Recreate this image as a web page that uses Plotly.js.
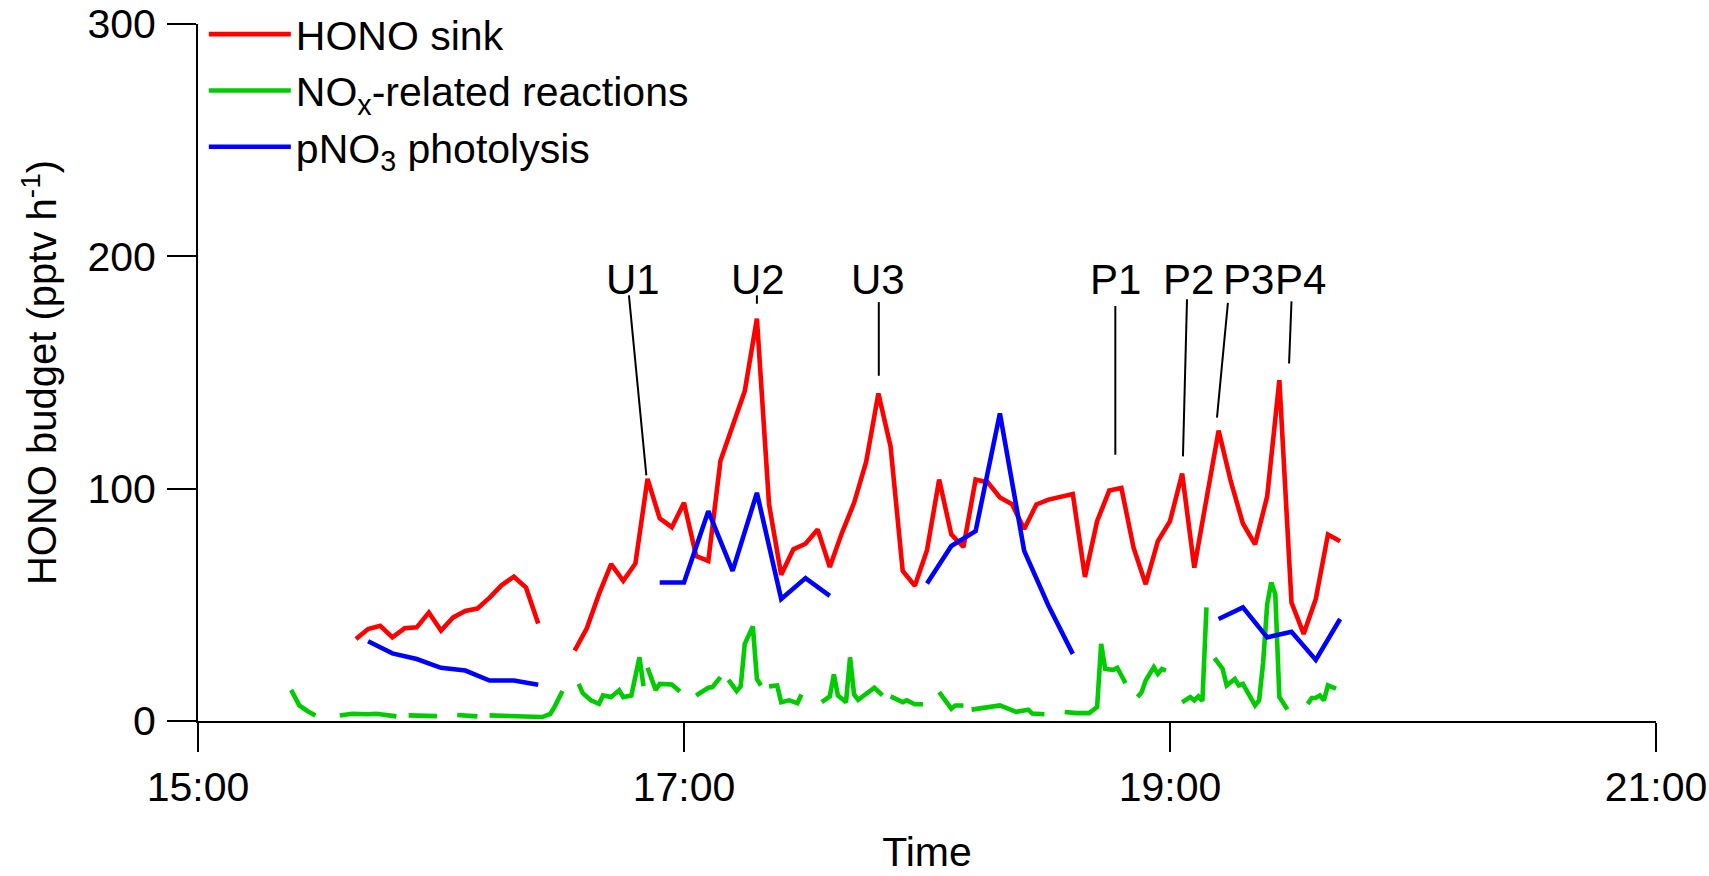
<!DOCTYPE html>
<html>
<head>
<meta charset="utf-8">
<script src="https://cdn.plot.ly/plotly-3.0.1.min.js"></script>
<style>
  html, body { margin: 0; padding: 0; background: #fff; }
  #chart { width: 1709px; height: 876px; }
</style>
</head>
<body>
<div id="chart"></div>
<script>
// ---------------- data (clock times on the measurement day) ----------------
const DAY = '2000-01-01 ';

const sinkTime = [
  '15:39','15:42','15:45','15:48','15:51','15:54','15:57','16:00','16:03','16:06','16:09','16:12','16:15','16:18','16:21','16:24',
  '16:28',
  '16:33','16:36','16:39','16:42','16:45','16:48','16:51','16:54','16:57','17:00','17:03','17:06','17:09','17:12','17:15','17:18',
  '17:21','17:24','17:27','17:30','17:33','17:36','17:39','17:42','17:45','17:48','17:51','17:54','17:57','18:00','18:03','18:06',
  '18:09','18:12','18:15','18:18','18:21','18:24','18:27','18:30','18:33','18:36','18:39','18:42','18:45','18:48','18:51','18:54',
  '18:57','19:00','19:03','19:06','19:09','19:12','19:15','19:18','19:21','19:24','19:27','19:30','19:33','19:36','19:39','19:42'
];
const sinkValue = [
  35.3,39.6,41.0,36.0,39.9,40.3,46.7,38.9,44.6,47.4,48.4,53.1,58.5,62.1,57.4,42.0,
  null,
  30.3,39.9,54.6,67.5,60.3,67.8,104.2,87.2,83.4,93.9,71.0,68.9,112.0,127.4,142.0,173.2,
  93.2,62.9,73.9,76.3,82.4,66.3,81.0,93.9,111.7,141.0,118.2,64.6,58.2,73.5,103.9,80.3,
  74.9,103.9,102.7,96.2,93.3,82.6,93.2,95.3,96.7,97.7,62.0,86.0,99.2,100.3,74.6,58.9,
  77.4,86.0,106.5,66.0,95.5,125.0,103.2,85.0,76.0,96.7,146.7,51.0,37.5,52.5,80.3,77.4
];

const noxTime = [
  '15:23','15:25','15:27','15:29','15:31',
  '15:35','15:38','15:42','15:44','15:49','15:50',
  '15:52','15:59','16:01',
  '16:04','16:09','16:10',
  '16:12','16:18','16:25','16:27','16:28','16:30','16:32',
  '16:34','16:35','16:37','16:39','16:40','16:42','16:44','16:45','16:47','16:49','16:50','16:50:30',
  '16:51','16:53','16:54','16:57','16:59','17:01',
  '17:03','17:06','17:07','17:09','17:10',
  '17:11','17:13','17:14','17:15','17:17','17:18','17:19','17:20',
  '17:21','17:23','17:24','17:26','17:28','17:29','17:31',
  '17:34','17:36','17:37','17:38','17:39','17:40','17:41','17:42','17:43','17:45','17:47','17:49','17:50',
  '17:51','17:54','17:55','17:57','17:59','18:01',
  '18:03','18:06','18:07','18:09','18:10',
  '18:11','18:15','18:18','18:20','18:22','18:25','18:26','18:29','18:31',
  '18:34','18:37','18:40','18:42','18:43','18:44','18:46','18:47','18:48','18:49','18:50',
  '18:52','18:53','18:54','18:56','18:57','18:58','18:59','19:01',
  '19:03','19:05','19:06','19:07','19:08','19:09','19:10',
  '19:11','19:13','19:14','19:16','19:17','19:18','19:21','19:22','19:23','19:24','19:25','19:26','19:27','19:29','19:31',
  '19:34','19:35','19:36','19:37','19:38','19:39','19:41'
];
const noxValue = [
  13.4,6.7,4.3,2.4,null,
  2.4,3.1,2.9,3.1,2.0,null,
  2.4,2.1,null,
  2.6,2.0,null,
  2.4,2.1,1.7,3.1,6.0,12.9,null,
  16.0,12.0,8.9,7.4,11.0,10.3,13.2,10.3,11.0,27.4,15.0,null,
  22.9,13.4,16.0,15.7,12.7,null,
  11.0,14.3,14.6,18.9,null,
  17.7,12.9,14.9,33.2,40.7,18.1,15.3,null,
  14.9,15.3,8.1,8.9,7.7,11.4,null,
  8.1,10.6,20.0,11.0,9.6,8.1,27.4,11.4,9.1,12.0,14.3,11.0,null,
  10.6,8.1,8.9,7.2,7.2,null,
  12.4,5.3,6.7,6.7,null,
  4.9,6.0,6.7,5.3,3.9,4.9,3.2,2.9,null,
  3.9,3.4,3.4,6.0,33.2,22.4,22.0,22.9,19.6,16.3,null,
  10.3,12.4,17.4,23.2,20.3,22.4,21.7,null,
  8.1,10.3,8.9,10.6,8.6,48.9,null,
  27.1,22.4,15.3,18.1,15.3,16.0,6.7,8.9,25.3,50.3,59.6,54.6,10.3,4.9,null,
  7.4,9.9,10.0,11.0,8.9,15.3,13.9
];

const pno3Time = [
  '15:42','15:48','15:54','16:00','16:06','16:12','16:18','16:24','16:30',
  '16:54','17:00','17:06','17:12','17:18','17:24','17:30','17:36','17:45',
  '18:00','18:06','18:12','18:18','18:24','18:30','18:36','18:45',
  '19:12','19:18','19:24','19:30','19:36','19:42'
];
const pno3Value = [
  34.3,29.1,26.7,22.9,21.7,17.4,17.4,15.6,null,
  59.6,59.6,90.3,64.6,98.2,52.5,61.5,53.9,null,
  59.2,75.3,81.7,132.4,73.2,49.6,28.9,null,
  43.9,48.9,36.0,38.4,26.3,43.9
];

// event labels: text position, and the leader line (top -> bottom)
const eventLabel    = ['U1','U2','U3','P1','P2','P3','P4'];
const eventTextTime = ['16:47:18','17:18:12','17:48:00','18:46:36','19:04:36','19:19:24','19:32:18'];
const eventTextY    = 190;
const eventTopTime  = ['16:46:24','17:18:00','17:48:06','18:46:30','19:04:12','19:14:18','19:30:00'];
const eventTopY     = [183.2,183.2,180.3,178.6,181.5,180.0,180.6];
const eventBotTime  = ['16:50:42','17:18:00','17:48:06','18:46:30','19:03:12','19:11:36','19:29:24'];
const eventBotY     = [105.7,179.6,148.6,114.6,113.9,130.6,153.9];

const xTickTime  = ['15:00','17:00','19:00','21:00'];
const yTickVals  = [0,100,200,300];

// ---------------- chart ----------------
const t = s => DAY + (s.length === 5 ? s + ':00' : s);
const FONT = 'Liberation Sans, Arial, Helvetica, sans-serif';
const LW = 4.6;

const traces = [
  { name: 'HONO sink', x: sinkTime.map(t), y: sinkValue, type: 'scatter', mode: 'lines',
    line: { color: '#ff0000', width: LW }, connectgaps: false },
  { name: 'NO<sub>x</sub>-related reactions', x: noxTime.map(t), y: noxValue, type: 'scatter', mode: 'lines',
    line: { color: '#00cc00', width: LW }, connectgaps: false },
  { name: 'pNO<sub>3</sub> photolysis', x: pno3Time.map(t), y: pno3Value, type: 'scatter', mode: 'lines',
    line: { color: '#0000ff', width: LW }, connectgaps: false }
];

const annotations = eventLabel.map((lab, i) => ({
  text: lab, x: t(eventTextTime[i]), y: eventTextY, xref: 'x', yref: 'y',
  showarrow: false, xanchor: 'center', yanchor: 'middle',
  font: { family: FONT, size: 42, color: '#000' }
}));
const shapes = eventLabel.map((lab, i) => ({
  type: 'line', xref: 'x', yref: 'y',
  x0: t(eventTopTime[i]), y0: eventTopY[i], x1: t(eventBotTime[i]), y1: eventBotY[i],
  line: { color: '#000', width: 2 }
}));

const layout = {
  width: 1709, height: 876,
  margin: { l: 198, r: 53, t: 24, b: 155, autoexpand: false },
  paper_bgcolor: '#fff', plot_bgcolor: '#fff',
  font: { family: FONT, size: 41, color: '#000' },
  showlegend: true,
  legend: {
    x: 0.004, y: 1.033, xanchor: 'left', yanchor: 'top',
    bgcolor: 'rgba(0,0,0,0)', borderwidth: 0,
    font: { family: FONT, size: 41, color: '#000' },
    itemwidth: 82, tracegroupgap: 0
  },
  xaxis: {
    type: 'date',
    range: [t(xTickTime[0]), t(xTickTime[xTickTime.length - 1])],
    tickvals: xTickTime.map(t), ticktext: xTickTime,
    showgrid: false, zeroline: false,
    showline: true, linecolor: '#000', linewidth: 2,
    ticks: 'outside', ticklen: 29, tickwidth: 2, tickcolor: '#000',
    ticklabeloverflow: 'allow',
    tickfont: { family: FONT, size: 41, color: '#000' },
    title: { text: 'Time', font: { family: FONT, size: 41, color: '#000' }, standoff: 28 }
  },
  yaxis: {
    range: [0, 300],
    tickvals: yTickVals,
    showgrid: false, zeroline: false,
    showline: true, linecolor: '#000', linewidth: 2,
    ticks: 'outside', ticklen: 29, tickwidth: 2, tickcolor: '#000',
    ticklabelstandoff: 3,
    ticklabeloverflow: 'allow',
    tickfont: { family: FONT, size: 41, color: '#000' },
    title: { text: 'HONO budget (pptv h<sup>-1</sup>)', font: { family: FONT, size: 40, color: '#000' }, standoff: 18 }
  },
  annotations: annotations,
  shapes: shapes
};

Plotly.newPlot('chart', traces, layout, { displayModeBar: false, staticPlot: true });
</script>
</body>
</html>
